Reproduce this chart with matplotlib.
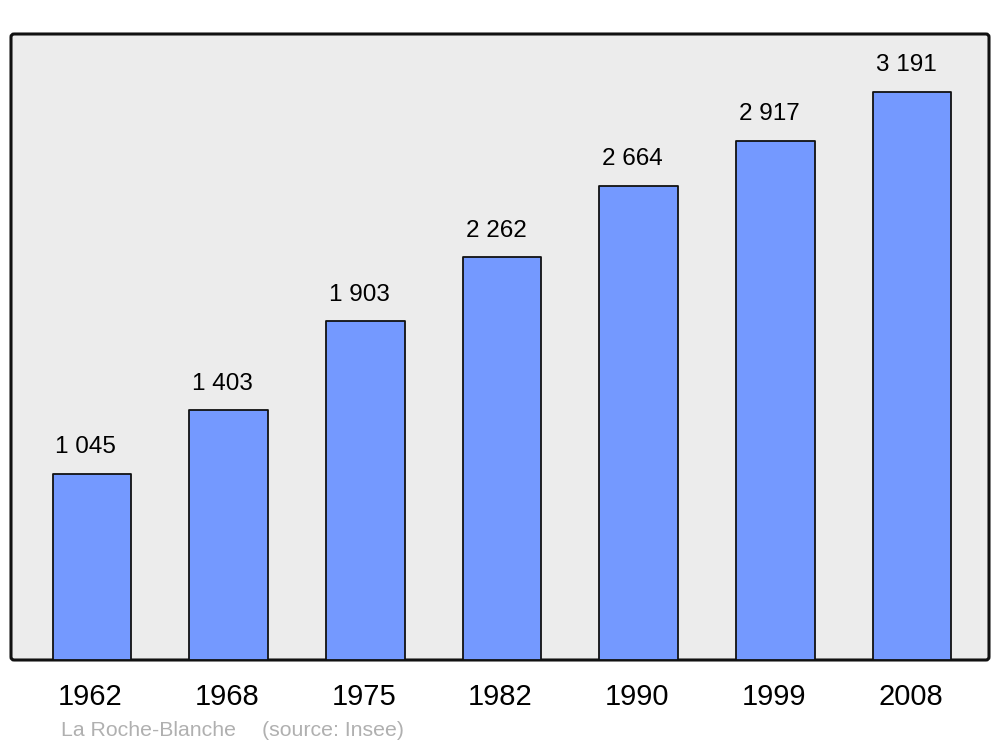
import matplotlib
matplotlib.use("Agg")
import matplotlib.pyplot as plt
from matplotlib.patches import FancyBboxPatch
from matplotlib.transforms import IdentityTransform

years = ["1962", "1968", "1975", "1982", "1990", "1999", "2008"]
population = [1045, 1403, 1903, 2262, 2664, 2917, 3191]
value_labels = ["1 045", "1 403", "1 903", "2 262", "2 664", "2 917", "3 191"]
title_text = "La Roche-Blanche"
source_text = "(source: Insee)"

plt.rcParams['font.family'] = ['Liberation Sans', 'DejaVu Sans']

fig = plt.figure(figsize=(10, 7.47), dpi=100)
ax = fig.add_axes([11/1000, 87/747, 978/1000, 626/747])
ax.patch.set_visible(False)
for s in ax.spines.values():
    s.set_visible(False)

# rounded frame in pixel coordinates
frame = FancyBboxPatch((11, 87), 978, 626, boxstyle="round,pad=0,rounding_size=3",
                       transform=IdentityTransform(), facecolor="#ececec",
                       edgecolor="#111111", linewidth=2.2, zorder=0)
fig.add_artist(frame)

x = list(range(len(years)))
ax.bar(x, population, width=0.575, color="#7499ff", edgecolor="#111111",
       linewidth=1.3, joinstyle="round", zorder=2)
ax.set_xlim(-0.593, 6.563)
ax.set_ylim(0, 3517)
ax.set_xticks([])
ax.set_yticks([])

for xi, v, lab in zip(x, population, value_labels):
    ax.annotate(lab, (xi - 0.045, v), xytext=(0, 19.2), textcoords="offset points",
                ha="center", va="center", fontsize=17.5, color="black")

for xi, yr in zip(x, years):
    ax.annotate(yr, (xi - 0.012, 0), xytext=(0, -26.8), textcoords="offset points",
                ha="center", va="center", fontsize=21, color="black",
                annotation_clip=False)

fig.text(61/1000, 1 - 731/747, title_text, fontsize=15.3, color="#b0b0b0",
         ha="left", va="center")
fig.text(262/1000, 1 - 731/747, source_text, fontsize=15.3, color="#b0b0b0",
         ha="left", va="center")

fig.savefig("out.png", dpi=100, facecolor="white")
